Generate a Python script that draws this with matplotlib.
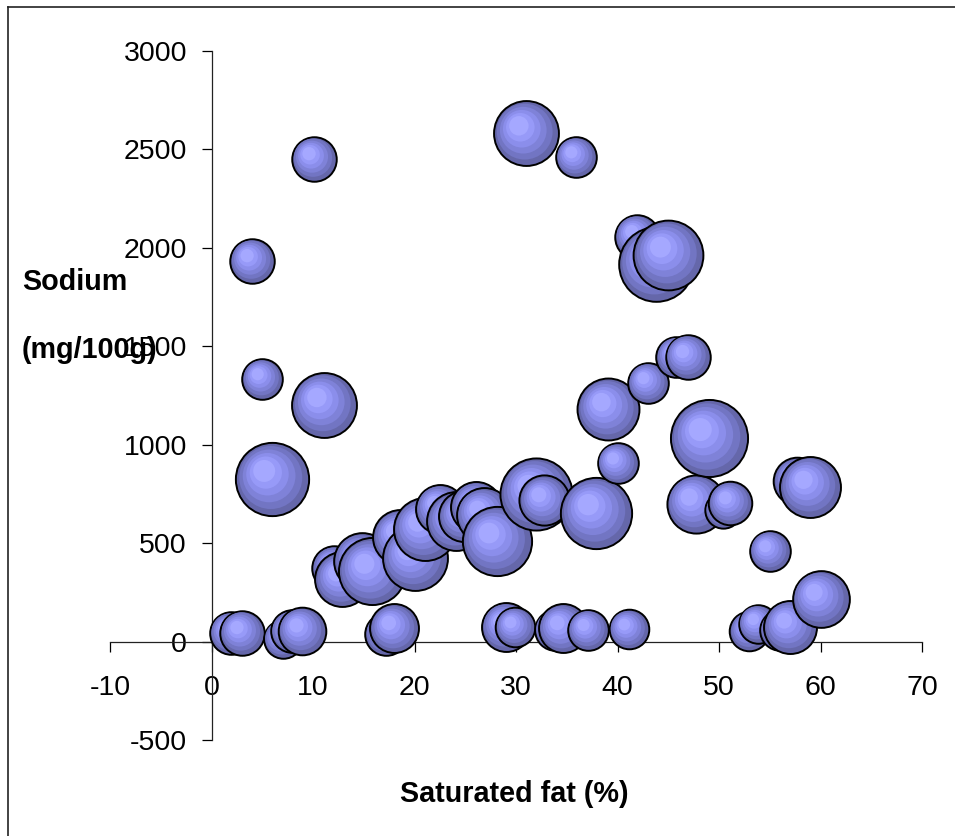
import matplotlib
matplotlib.use("Agg")
import matplotlib.pyplot as plt
import matplotlib.transforms as mtransforms
from matplotlib.lines import Line2D
import numpy as np

plt.rcParams['font.family'] = ['Liberation Sans', 'DejaVu Sans']
plt.rcParams['axes.unicode_minus'] = False

# ---- data (sorted by saturated fat; later bubbles drawn on top) ----
sat_fat = [1.9, 3.0, 4.0, 5.0, 6.0, 7.0, 7.9, 8.9, 10.1, 11.1,
           12.1, 12.9, 14.8, 15.8, 17.2, 18.0, 18.6, 20.0, 21.0, 22.5,
           24.1, 24.9, 26.1, 26.8, 28.1, 29.0, 29.9, 31.0, 32.0, 32.8,
           33.8, 34.6, 35.9, 37.1, 37.9, 39.1, 40.0, 41.1, 41.9, 43.0,
           43.8, 45.0, 45.8, 46.9, 47.7, 49.0, 50.4, 51.1, 53.0, 53.8,
           55.0, 56.0, 57.0, 57.7, 59.0, 60.0]
sodium = [45, 46, 1935, 1335, 825, 14, 52, 55, 2453, 1203,
          375, 316, 410, 357, 40, 67, 530, 426, 570, 675,
          610, 636, 685, 643, 512, 76, 75, 2583, 751, 717,
          60, 67, 2462, 61, 655, 1181, 907, 64, 2057, 1315,
          1918, 1964, 1448, 1448, 701, 1033, 670, 705, 55, 91,
          461, 60, 76, 814, 787, 218]
bubble_size = [4.4, 4.8, 4.8, 4.0, 13.0, 3.6, 4.4, 5.5, 4.8, 10.2,
               4.8, 7.3, 7.8, 10.9, 4.4, 5.8, 7.3, 10.2, 9.6, 5.8,
               8.4, 6.3, 6.3, 7.3, 11.6, 5.8, 3.8, 10.2, 12.6, 6.1,
               4.0, 5.8, 4.0, 4.0, 12.3, 9.3, 4.0, 3.8, 4.8, 4.0,
               13.5, 11.8, 4.0, 4.8, 8.2, 14.4, 3.2, 4.6, 3.8, 3.6,
               4.0, 4.0, 6.8, 5.5, 9.0, 7.8]

x_ticks = list(range(-10, 71, 10))
y_ticks = list(range(-500, 3001, 500))
x_label = "Saturated fat (%)"
y_label_1 = "Sodium"
y_label_2 = "(mg/100g)"

# ---- style ----
W, H, DPI = 955, 836, 100
SIZE_SCALE = 214.0  # points^2 per bubble-size unit (area proportional)
layers = [(1.00, '#6567aa'), (0.86, '#7275c3'), (0.72, '#7f82d8'),
          (0.58, '#8b8eeb'), (0.44, '#979af8'), (0.30, '#a5a8ff')]

fig = plt.figure(figsize=(W / DPI, H / DPI), dpi=DPI)
fig.patch.set_facecolor('white')
ax = fig.add_axes([110 / W, (H - 740) / H, (922 - 110) / W, (740 - 51) / H])
ax.set_facecolor('none')
ax.set_xlim(-10, 70)
ax.set_ylim(-500, 3000)

for xv, yv, sv in zip(sat_fat, sodium, bubble_size):
    s_base = sv * SIZE_SCALE
    r_pt = np.sqrt(s_base) / 2.0
    for i, (f, col) in enumerate(layers):
        off = (1 - f) * 0.32 * r_pt
        tr = mtransforms.offset_copy(ax.transData, fig=fig, x=-off, y=off, units='points')
        if i == 0:
            ax.scatter([xv], [yv], s=s_base, c=col, edgecolors='black',
                       linewidths=1.4, transform=tr, zorder=3)
        else:
            ax.scatter([xv], [yv], s=s_base * f * f, c=col, edgecolors='none',
                       transform=tr, zorder=3)

for side in ['top', 'right']:
    ax.spines[side].set_visible(False)
ax.spines['left'].set_position(('data', 0))
ax.spines['bottom'].set_position(('data', 0))
for side in ['left', 'bottom']:
    ax.spines[side].set_color('#222222')
    ax.spines[side].set_linewidth(0.9)

ax.set_xticks(x_ticks)
ax.set_yticks(y_ticks)
ax.set_xticklabels([str(v) for v in x_ticks])
ax.set_yticklabels([str(v) for v in y_ticks])
ax.tick_params(axis='x', direction='out', length=7.2, width=0.9, pad=17,
               labelsize=20.5, colors='black')
ax.tick_params(axis='y', direction='out', length=7.2, width=0.9, pad=10.5,
               labelsize=20.5, colors='black')

fig.text(514 / W, 1 - 802 / H, x_label, ha='center', va='baseline',
         fontsize=20.7, fontweight='bold')
fig.text(22 / W, 1 - 290 / H, y_label_1, ha='left', va='baseline',
         fontsize=20.7, fontweight='bold')
fig.text(22 / W, 1 - 358 / H, y_label_2, ha='left', va='baseline',
         fontsize=20.7, fontweight='bold')

# outer chart border (left and top visible)
fig.add_artist(Line2D([8 / W, 8 / W], [0, 1 - 7 / H], transform=fig.transFigure,
                      color='#222222', lw=1.2))
fig.add_artist(Line2D([8 / W, 1], [1 - 7 / H, 1 - 7 / H], transform=fig.transFigure,
                      color='#222222', lw=1.2))

fig.savefig('out.png', dpi=DPI)
